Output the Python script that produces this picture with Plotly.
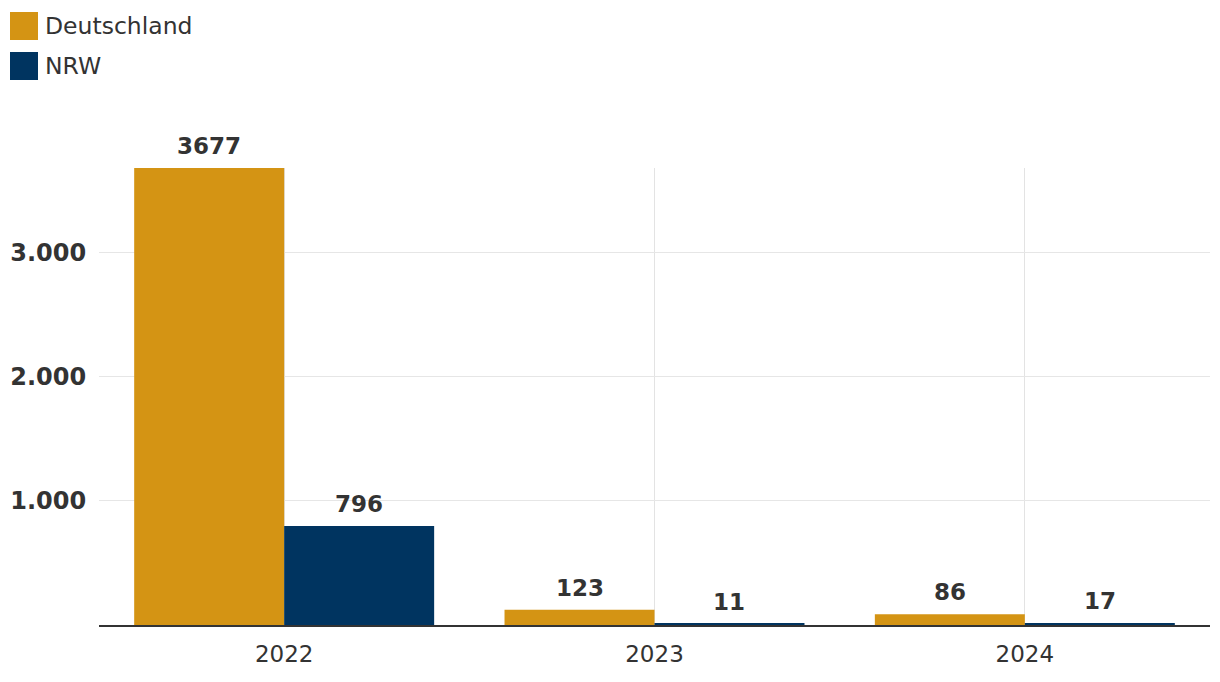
import plotly.graph_objects as go

years = ["2022", "2023", "2024"]
deutschland = [3677, 123, 86]
nrw = [796, 11, 17]
series_names = ["Deutschland", "NRW"]
colors = ["#D49414", "#003460"]
y_ticks = [1000, 2000, 3000]

W, H = 1220, 682
ml, mr, mt, mb = 99, 10, 168, 57
pw, ph = W - ml - mr, H - mt - mb
font_family = "DejaVu Sans, Verdana, sans-serif"
txt = "#333333"

fig = go.Figure()
for name, vals, col in zip(series_names, [deutschland, nrw], colors):
    fig.add_trace(go.Bar(x=years, y=vals, name=name, marker=dict(color=col, line=dict(width=0)),
                         showlegend=False))

bargap = 0.19
bar_px = pw / len(years) * (1 - bargap) / 2
for i, vals in enumerate([deutschland, nrw]):
    shift = (-0.5 + i) * bar_px
    for k, v in enumerate(vals):
        fig.add_annotation(x=k, y=v, text=f"<b>{v}</b>", showarrow=False, xshift=shift,
                           yanchor="bottom", yshift=7, font=dict(size=23, color=txt, family=font_family))

# custom legend
for i, (name, col) in enumerate(zip(series_names, colors)):
    top = 12 + 40 * i
    fig.add_shape(type="rect", xref="paper", yref="paper",
                  x0=(10 - ml) / pw, x1=(38 - ml) / pw,
                  y0=(H - mb - (top + 28)) / ph, y1=(H - mb - top) / ph,
                  fillcolor=col, line=dict(width=0))
    fig.add_annotation(xref="paper", yref="paper", x=(43 - ml) / pw, y=(H - mb - (top + 14)) / ph,
                       xanchor="left", yanchor="middle", text=name, showarrow=False,
                       font=dict(size=23.5, color=txt, family=font_family))

fig.update_layout(
    width=W, height=H, margin=dict(l=ml, r=mr, t=mt, b=mb, autoexpand=False),
    barmode="group", bargap=bargap, bargroupgap=0,
    plot_bgcolor="white", paper_bgcolor="white",
    separators=",.",
    font=dict(family=font_family, color=txt, size=22),
    xaxis=dict(type="category", range=[-0.5, len(years) - 0.5], automargin=False,
               showgrid=True, gridcolor="#e3e3e3",
               gridwidth=1, showline=True, linecolor="#333333", linewidth=1.5,
               ticks="outside", ticklen=8, tickcolor="rgba(0,0,0,0)",
               tickfont=dict(size=23, color=txt, family=font_family)),
    yaxis=dict(range=[0, max(deutschland + nrw)], tickvals=y_ticks, tickformat=",d", automargin=False,
               showgrid=True, gridcolor="#e6e6e6", gridwidth=1, zeroline=False, showline=False,
               ticks="outside", ticklen=7, tickcolor="rgba(0,0,0,0)",
               tickfont=dict(size=24, color=txt, family=font_family, weight="bold")),
)
fig.write_html("out.html")
